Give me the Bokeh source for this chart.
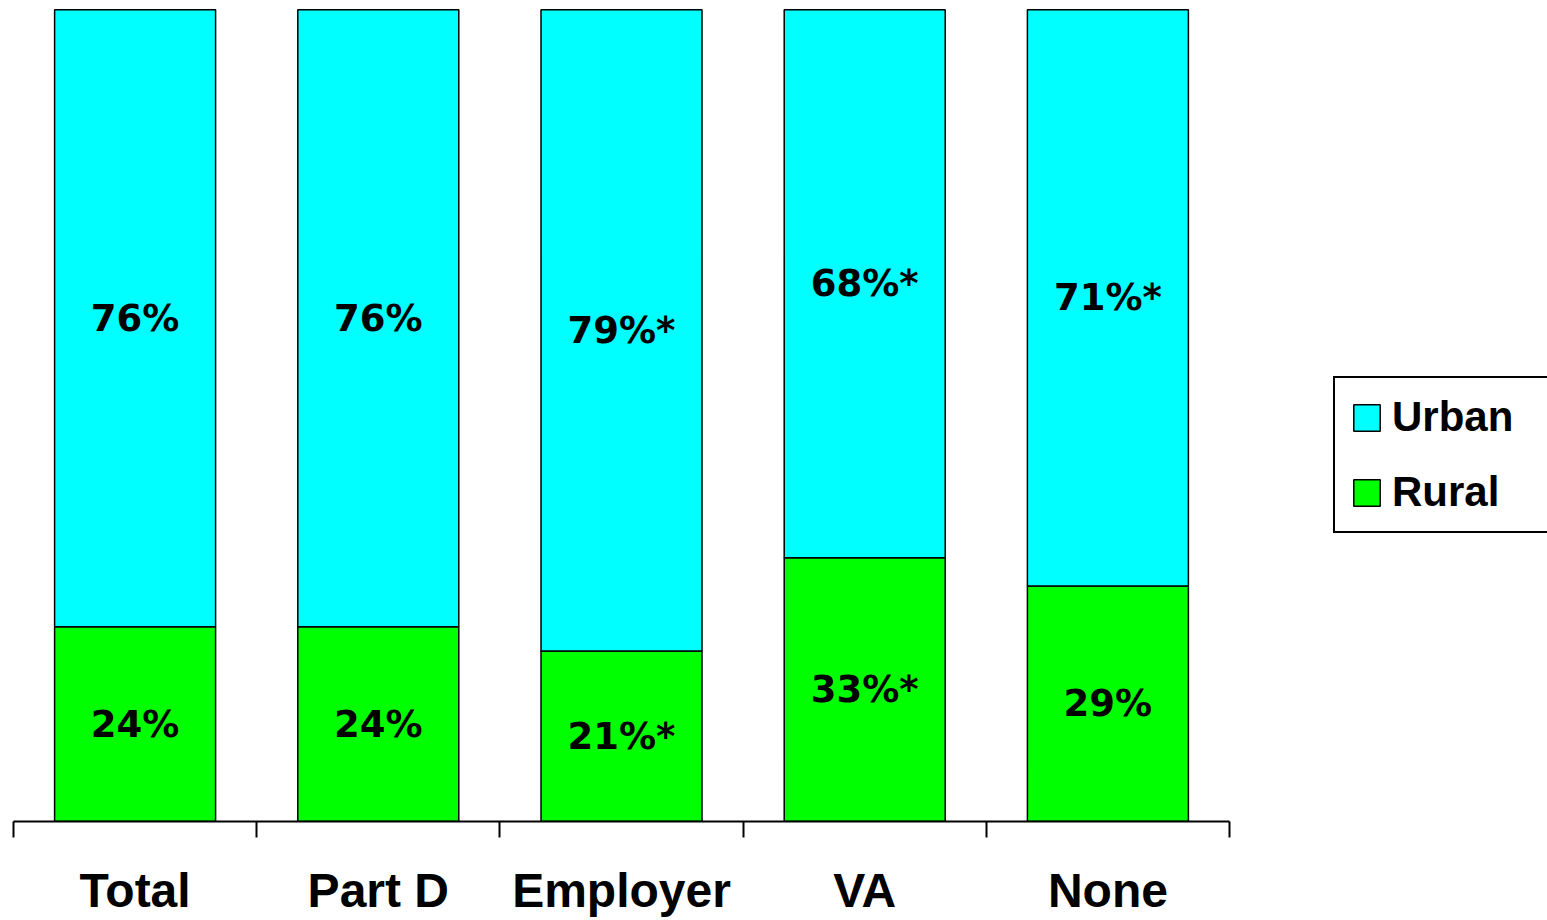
from bokeh.plotting import figure
from bokeh.models import (ColumnDataSource, Range1d, LinearAxis, FixedTicker,
                          Legend, LegendItem, LabelSet)
from bokeh.core.properties import value
from bokeh.embed import file_html
from bokeh.resources import INLINE

categories = ["Total", "Part D", "Employer", "VA", "None"]
rural = [24, 24, 21, 32.5, 29]
urban = [76, 76, 79, 67.5, 71]
rural_labels = ["24%", "24%", "21%*", "33%*", "29%"]
urban_labels = ["76%", "76%", "79%*", "68%*", "71%*"]

n = len(categories)
x = [i + 0.5 for i in range(n)]
top = [r + u for r, u in zip(rural, urban)]
src = ColumnDataSource(dict(
    x=x, rural=rural, urban=urban, top=top,
    rural_mid=[r / 2 for r in rural],
    urban_mid=[r + u / 2 for r, u in zip(rural, urban)],
    rural_labels=rural_labels, urban_labels=urban_labels,
))

W, H = 1547, 920
left, cat_span = 13, 1216          # pixels occupied by the five categories
frame_w = W - left
x_end = n * frame_w / cat_span

p = figure(width=W, height=H, output_backend="svg", toolbar_location=None,
           x_range=Range1d(0, x_end), y_range=Range1d(0, 100.15),
           x_axis_type=None, y_axis_type=None,
           min_border_left=left, min_border_right=0, min_border_top=8,
           min_border_bottom=99)
p.outline_line_color = None
p.xgrid.grid_line_color = None
p.ygrid.grid_line_color = None
p.background_fill_color = "white"
p.border_fill_color = "white"

r_rural = p.vbar(x="x", bottom=0, top="rural", width=0.662, source=src,
                 fill_color="#00FF00", line_color="black", line_width=1.5)
r_urban = p.vbar(x="x", bottom="rural", top="top", width=0.662, source=src,
                 fill_color="#00FFFF", line_color="black", line_width=1.5)

for ycol, tcol in (("rural_mid", "rural_labels"), ("urban_mid", "urban_labels")):
    p.add_layout(LabelSet(x="x", y=ycol, text=tcol, source=src,
                          text_align="center", text_baseline="middle",
                          text_font=value("DejaVu Sans"),
                          text_font_style="bold",
                          text_font_size=value("37px"), text_color="black"))

ax = LinearAxis(ticker=FixedTicker(ticks=x, minor_ticks=list(range(n + 1))),
                bounds=(0, n))
ax.major_label_overrides = {xi: c for xi, c in zip(x, categories)}
ax.major_tick_line_color = None
ax.major_tick_in = 0
ax.major_tick_out = 0
ax.minor_tick_in = 0
ax.minor_tick_out = 16
ax.minor_tick_line_color = "black"
ax.minor_tick_line_width = 2
ax.axis_line_color = "black"
ax.axis_line_width = 2
ax.major_label_text_font = "Liberation Sans"
ax.major_label_text_font_style = "bold"
ax.major_label_text_font_size = "48px"
ax.major_label_text_color = "black"
ax.major_label_standoff = 26
p.add_layout(ax, "below")

legend = Legend(items=[LegendItem(label="Urban", renderers=[r_urban]),
                       LegendItem(label="Rural", renderers=[r_rural])],
                location=(1320, 288), orientation="vertical",
                glyph_width=33, glyph_height=33, label_height=33,
                label_width=200,
                spacing=27, padding=15, label_standoff=9, margin=0,
                border_line_color="black", border_line_width=2,
                border_line_alpha=1.0,
                background_fill_alpha=1.0,
                label_text_font="Liberation Sans", label_text_font_style="bold",
                label_text_font_size="42px", label_text_color="black",
                label_text_baseline="middle")
p.add_layout(legend, "center")

open("out.html", "w").write(file_html(p, INLINE))
